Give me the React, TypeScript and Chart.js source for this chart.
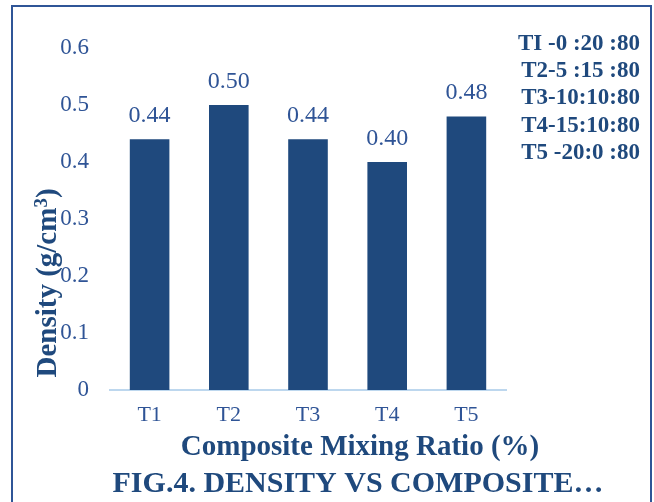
import React, { useEffect, useRef } from "react";
import { Chart, registerables } from "chart.js";

Chart.register(...registerables);

const categories = ["T1", "T2", "T3", "T4", "T5"];
const density = [0.44, 0.5, 0.44, 0.4, 0.48];
const densityLabels = ["0.44", "0.50", "0.44", "0.40", "0.48"];
const legendLines = ["TI -0 :20 :80", "T2-5 :15 :80", "T3-10:10:80", "T4-15:10:80", "T5 -20:0 :80"];
const xTitle = "Composite Mixing Ratio (%)";
const figTitle = "FIG.4. DENSITY VS COMPOSITE…";

const SERIF = "'Liberation Serif', 'Times New Roman', serif";
const BAR = "#1F497D";
const TEXT = "#2F5496";
const DARK = "#1F497D";

const overlay = {
  id: "overlay",
  afterDraw(chart: any) {
    const ctx = chart.ctx;
    const meta = chart.getDatasetMeta(0);
    ctx.save();
    // data labels
    ctx.font = `24px ${SERIF}`;
    ctx.fillStyle = TEXT;
    ctx.textAlign = "center";
    ctx.textBaseline = "alphabetic";
    meta.data.forEach((el: any, i: number) => {
      ctx.fillText(densityLabels[i], el.x, el.y - 17);
    });
    // legend text block
    ctx.font = `bold 23px ${SERIF}`;
    ctx.fillStyle = DARK;
    ctx.textAlign = "right";
    legendLines.forEach((t, i) => ctx.fillText(t, 640, 50 + i * 27.2));
    // x title
    ctx.textAlign = "center";
    ctx.font = `bold 29px ${SERIF}`;
    ctx.fillText(xTitle, 360, 455);
    ctx.font = `bold 30px ${SERIF}`;
    ctx.fillText(figTitle, 358, 492);
    // y title
    ctx.save();
    ctx.translate(56, 283);
    ctx.rotate(-Math.PI / 2);
    const big = `bold 29px ${SERIF}`;
    const small = `bold 19px ${SERIF}`;
    ctx.font = big;
    const base = "Density (g/cm";
    const wBase = ctx.measureText(base).width;
    const wEnd = ctx.measureText(")").width;
    ctx.font = small;
    const wSup = ctx.measureText("3").width;
    const total = wBase + wSup + wEnd;
    let x = -total / 2;
    ctx.textAlign = "left";
    ctx.font = big;
    ctx.fillText(base, x, 0);
    x += wBase;
    ctx.font = small;
    ctx.fillText("3", x, -9);
    x += wSup;
    ctx.font = big;
    ctx.fillText(")", x, 0);
    ctx.restore();
    // frame
    ctx.strokeStyle = "#2F5597";
    ctx.lineWidth = 2;
    ctx.beginPath();
    ctx.moveTo(12, 510);
    ctx.lineTo(12, 6);
    ctx.lineTo(651, 6);
    ctx.lineTo(651, 510);
    ctx.stroke();
    ctx.restore();
  },
};

export default function App() {
  const ref = useRef<HTMLCanvasElement>(null);
  useEffect(() => {
    if (!ref.current) return;
    const chart = new Chart(ref.current, {
      type: "bar",
      data: {
        labels: categories,
        datasets: [
          {
            data: density,
            backgroundColor: BAR,
            categoryPercentage: 1,
            barPercentage: 0.5,
          },
        ],
      },
      options: {
        animation: false,
        responsive: false,
        devicePixelRatio: 1,
        layout: { padding: { left: 0, top: 48, right: 148, bottom: 0 } },
        plugins: { legend: { display: false }, tooltip: { enabled: false }, title: { display: false } },
        scales: {
          x: {
            grid: { display: false, drawTicks: false },
            border: { display: true, color: "#BDD7EE", width: 2 },
            ticks: { color: TEXT, font: { family: SERIF, size: 22 }, padding: 12 },
            afterFit: (s: any) => {
              s.height = 112;
            },
          },
          y: {
            min: 0,
            max: 0.6,
            grid: { display: false, drawTicks: false },
            border: { display: false },
            ticks: {
              stepSize: 0.1,
              color: TEXT,
              font: { family: SERIF, size: 23 },
              padding: 21,
              callback: (v: any) => (v === 0 ? "0" : Number(v).toFixed(1)),
            },
            afterFit: (s: any) => {
              s.width = 110;
            },
          },
        },
      },
      plugins: [overlay],
    });
    return () => chart.destroy();
  }, []);
  return (
    <div style={{ position: "fixed", left: 0, top: 0, width: 654, height: 502, background: "#fff" }}>
      <canvas ref={ref} width={654} height={502} style={{ width: 654, height: 502 }} />
    </div>
  );
}
